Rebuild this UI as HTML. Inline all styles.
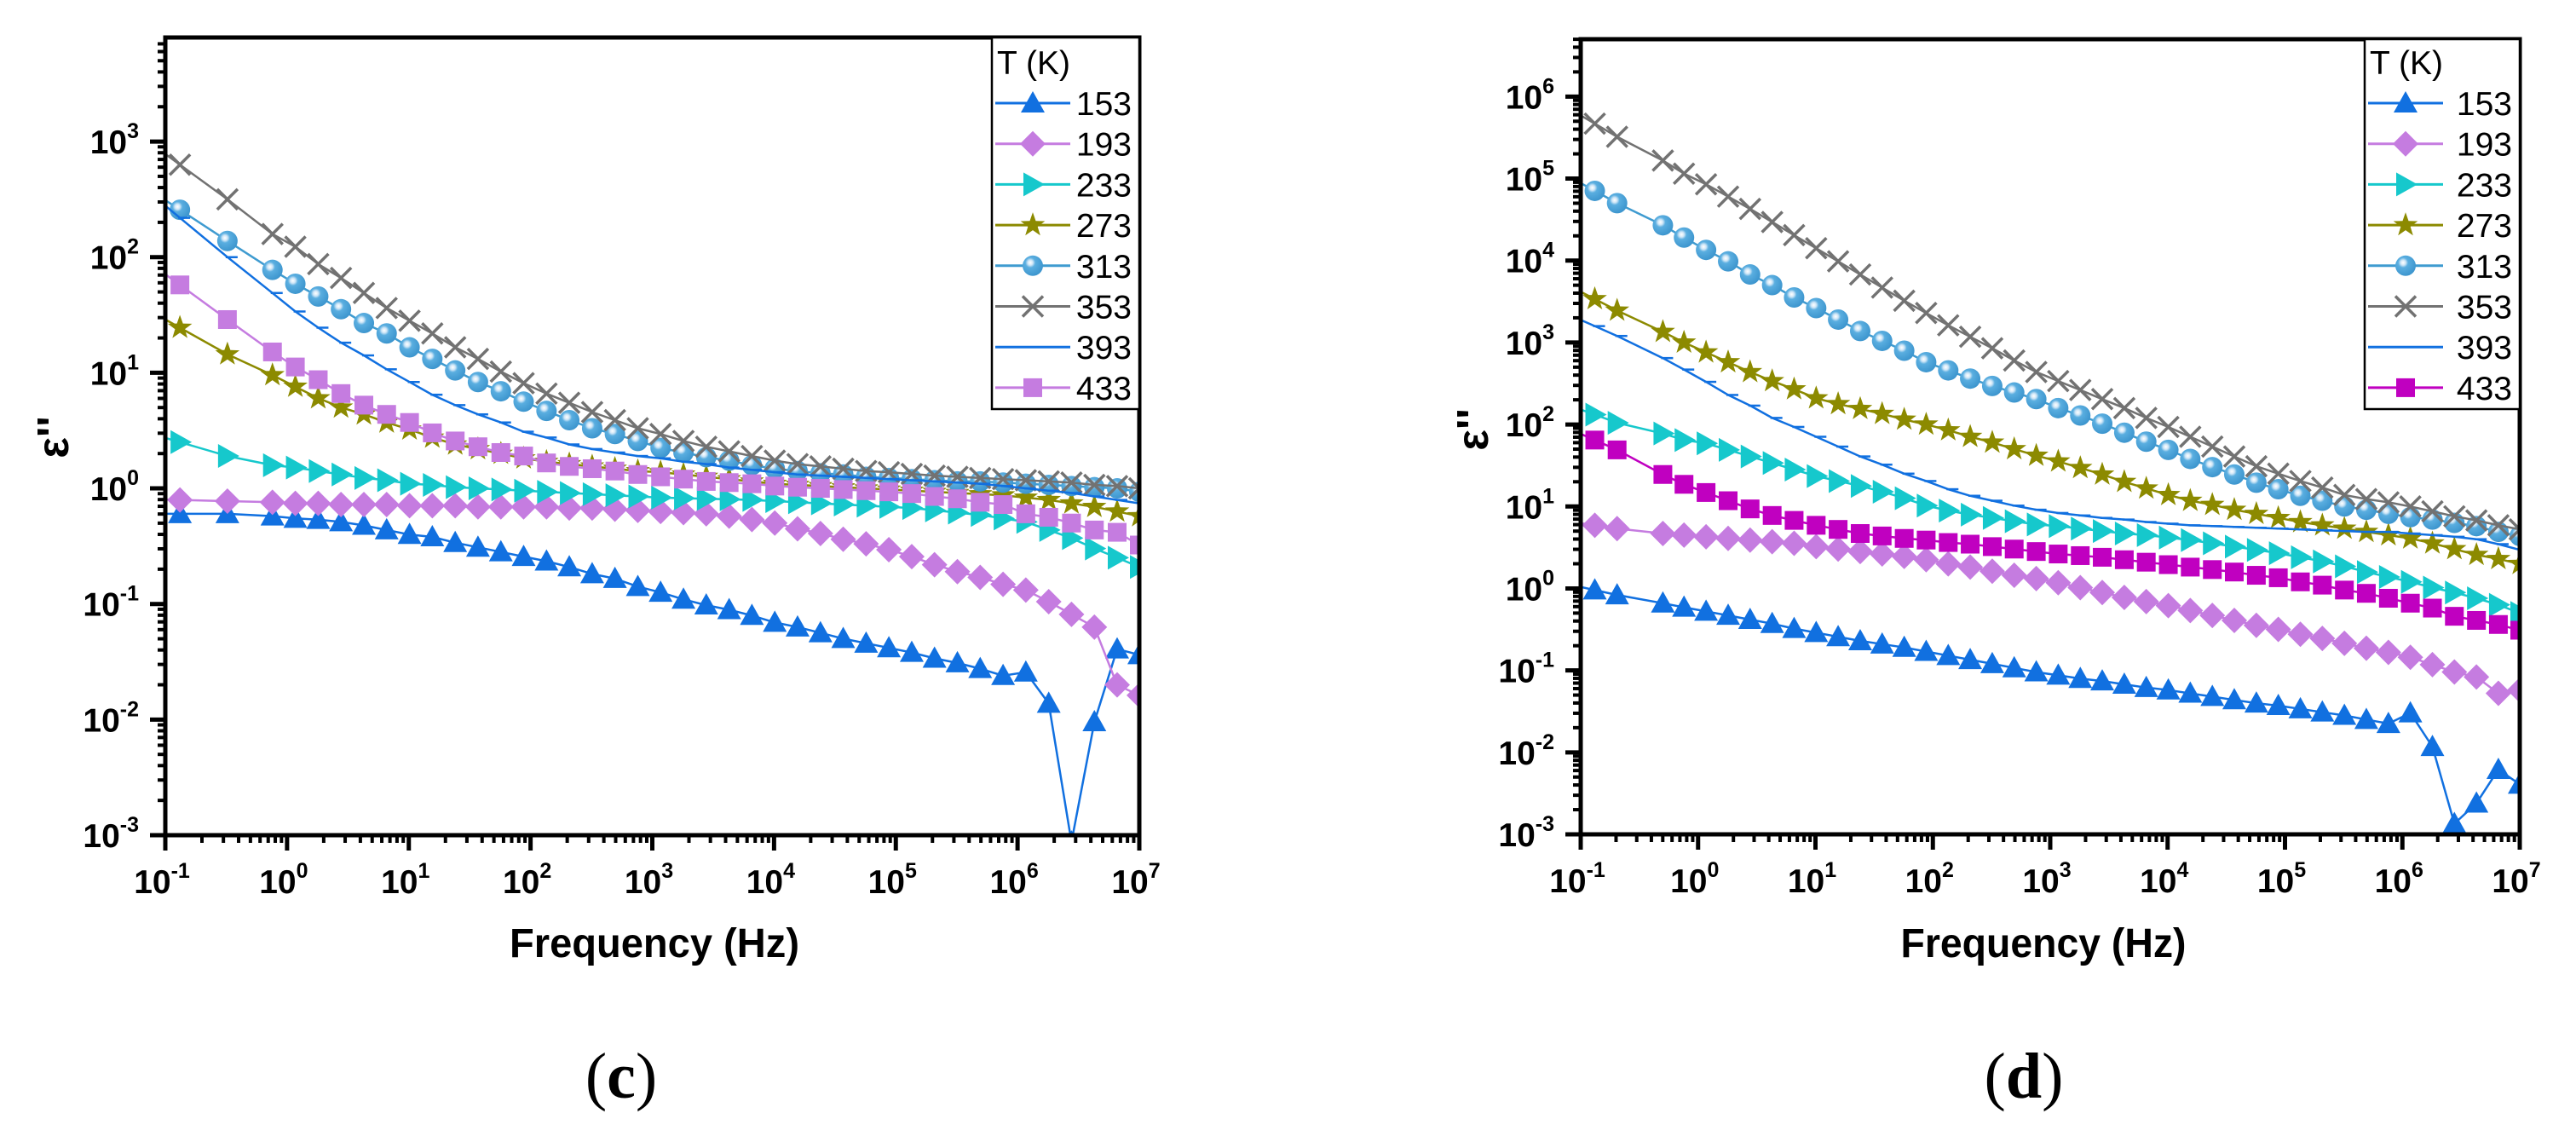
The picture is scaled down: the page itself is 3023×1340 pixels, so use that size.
<!DOCTYPE html>
<html><head><meta charset="utf-8"><style>
html,body{margin:0;padding:0;background:#fff;}
svg{display:block;font-family:"Liberation Sans",Arial,sans-serif;}
</style></head><body>
<svg id="fig" width="3023" height="1340" viewBox="0 0 3023 1340" xmlns="http://www.w3.org/2000/svg">
<defs>
<radialGradient id="ballg" cx="0.38" cy="0.35" r="0.7">
<stop offset="0" stop-color="#ffffff"/><stop offset="0.18" stop-color="#cfe6f7"/><stop offset="0.35" stop-color="#5aaee0"/><stop offset="1" stop-color="#3a93cc"/>
</radialGradient>
<clipPath id="clipC"><rect x="194" y="44" width="1143" height="936"/></clipPath>
<clipPath id="clipD"><rect x="1855" y="46" width="1102" height="933"/></clipPath>
</defs>
<rect x="0" y="0" width="3023" height="1340" fill="#fff"/>
</svg>
<script>
// ---------- data (log10 of frequency and of eps'') ----------
const freqLogC = [-0.88,-0.49,-0.12,0.068,0.256,0.443,0.631,0.818,1.006,1.193,1.381,1.568,1.756,1.943,2.131,2.318,2.506,2.693,2.881,3.068,3.256,3.443,3.631,3.818,4.006,4.193,4.381,4.568,4.756,4.943,5.131,5.318,5.506,5.693,5.881,6.068,6.256,6.443,6.631,6.818,7.0];
const freqLogD = [-0.88,-0.69,-0.30,-0.12,0.068,0.256,0.443,0.631,0.818,1.006,1.193,1.381,1.568,1.756,1.943,2.131,2.318,2.506,2.693,2.881,3.068,3.256,3.443,3.631,3.818,4.006,4.193,4.381,4.568,4.756,4.943,5.131,5.318,5.506,5.693,5.881,6.068,6.256,6.443,6.631,6.818,7.0];
const temps = ["153","193","233","273","313","353","393","433"];
const xTicks = [-1,0,1,2,3,4,5,6,7];
const yTicksC = [-3,-2,-1,0,1,2,3];
const yTicksD = [-3,-2,-1,0,1,2,3,4,5,6];

const c153 = [-0.22,-0.22,-0.24,-0.26,-0.27,-0.29,-0.32,-0.36,-0.40,-0.42,-0.47,-0.51,-0.55,-0.59,-0.63,-0.68,-0.74,-0.78,-0.85,-0.90,-0.96,-1.01,-1.05,-1.10,-1.16,-1.20,-1.25,-1.30,-1.34,-1.38,-1.42,-1.47,-1.51,-1.56,-1.62,-1.59,-1.86,-3.06,-2.02,-1.39,-1.44];
const c193 = [-0.10,-0.11,-0.12,-0.13,-0.13,-0.14,-0.14,-0.14,-0.15,-0.15,-0.15,-0.16,-0.16,-0.16,-0.16,-0.17,-0.17,-0.18,-0.19,-0.20,-0.21,-0.22,-0.24,-0.27,-0.30,-0.35,-0.39,-0.44,-0.48,-0.53,-0.59,-0.66,-0.72,-0.77,-0.83,-0.88,-0.98,-1.09,-1.20,-1.70,-1.79];
const c233 = [0.40,0.28,0.20,0.18,0.15,0.12,0.09,0.07,0.04,0.03,0.01,0.00,-0.01,-0.02,-0.03,-0.04,-0.05,-0.06,-0.07,-0.08,-0.085,-0.09,-0.095,-0.10,-0.11,-0.12,-0.13,-0.14,-0.15,-0.16,-0.17,-0.19,-0.21,-0.23,-0.26,-0.29,-0.36,-0.43,-0.52,-0.60,-0.68];
const c273 = [1.39,1.16,0.98,0.88,0.78,0.70,0.64,0.57,0.51,0.44,0.38,0.34,0.30,0.26,0.23,0.21,0.19,0.17,0.15,0.14,0.12,0.10,0.08,0.06,0.04,0.03,0.02,0.01,0.00,-0.01,-0.02,-0.03,-0.04,-0.05,-0.06,-0.08,-0.10,-0.13,-0.16,-0.20,-0.24];
const c313 = [2.41,2.14,1.89,1.77,1.66,1.55,1.43,1.34,1.22,1.12,1.02,0.92,0.84,0.75,0.67,0.59,0.52,0.47,0.41,0.35,0.31,0.27,0.24,0.20,0.17,0.15,0.13,0.12,0.10,0.09,0.08,0.07,0.06,0.06,0.05,0.04,0.03,0.02,0.01,0.00,-0.03];
const c353 = [2.80,2.50,2.20,2.09,1.94,1.82,1.69,1.56,1.45,1.34,1.22,1.12,1.01,0.91,0.82,0.74,0.66,0.59,0.52,0.47,0.41,0.36,0.32,0.28,0.24,0.21,0.19,0.17,0.15,0.14,0.125,0.11,0.10,0.09,0.08,0.07,0.06,0.05,0.03,0.02,0.00];
const c393 = [2.34,2.00,1.69,1.53,1.39,1.26,1.15,1.03,0.92,0.81,0.72,0.64,0.57,0.49,0.44,0.38,0.34,0.31,0.28,0.26,0.23,0.21,0.18,0.16,0.14,0.12,0.11,0.10,0.09,0.08,0.07,0.06,0.05,0.04,0.02,0.00,-0.02,-0.04,-0.07,-0.10,-0.13];
const c433 = [1.76,1.46,1.18,1.05,0.94,0.82,0.72,0.64,0.57,0.48,0.41,0.36,0.31,0.28,0.22,0.19,0.17,0.15,0.12,0.10,0.08,0.06,0.05,0.04,0.02,0.01,0.00,-0.01,-0.02,-0.03,-0.045,-0.07,-0.09,-0.12,-0.14,-0.22,-0.25,-0.30,-0.36,-0.38,-0.49];

const d153 = [-0.02,-0.08,-0.18,-0.23,-0.28,-0.33,-0.38,-0.43,-0.49,-0.54,-0.59,-0.64,-0.68,-0.72,-0.77,-0.82,-0.87,-0.92,-0.97,-1.02,-1.06,-1.10,-1.13,-1.17,-1.21,-1.24,-1.28,-1.32,-1.36,-1.40,-1.43,-1.47,-1.51,-1.55,-1.60,-1.65,-1.52,-1.93,-2.87,-2.62,-2.21,-2.39];
const d193 = [0.77,0.73,0.67,0.65,0.63,0.61,0.59,0.57,0.55,0.51,0.48,0.45,0.42,0.39,0.35,0.30,0.26,0.21,0.16,0.12,0.07,0.01,-0.05,-0.11,-0.16,-0.21,-0.27,-0.33,-0.39,-0.45,-0.50,-0.56,-0.61,-0.67,-0.73,-0.78,-0.84,-0.93,-1.02,-1.08,-1.28,-1.24];
const d233 = [2.12,2.02,1.89,1.81,1.77,1.69,1.61,1.53,1.45,1.37,1.31,1.25,1.18,1.10,1.01,0.95,0.90,0.86,0.82,0.78,0.76,0.73,0.70,0.67,0.65,0.62,0.59,0.55,0.51,0.47,0.43,0.38,0.33,0.27,0.20,0.14,0.08,0.01,-0.05,-0.12,-0.20,-0.30];
const d273 = [3.53,3.39,3.13,3.00,2.88,2.76,2.64,2.53,2.43,2.32,2.25,2.19,2.13,2.06,2.00,1.93,1.85,1.78,1.70,1.62,1.55,1.47,1.39,1.30,1.22,1.14,1.07,1.02,0.96,0.91,0.86,0.81,0.77,0.73,0.69,0.65,0.61,0.55,0.48,0.41,0.36,0.30];
const d313 = [4.85,4.70,4.43,4.28,4.13,3.99,3.83,3.70,3.55,3.42,3.28,3.14,3.02,2.90,2.76,2.66,2.56,2.47,2.39,2.31,2.20,2.11,2.01,1.90,1.79,1.69,1.58,1.48,1.39,1.29,1.21,1.13,1.07,1.00,0.96,0.91,0.87,0.84,0.80,0.76,0.69,0.64];
const d353 = [5.67,5.51,5.22,5.06,4.93,4.78,4.63,4.47,4.31,4.15,3.99,3.83,3.67,3.51,3.36,3.21,3.07,2.93,2.78,2.64,2.53,2.42,2.31,2.20,2.08,1.97,1.85,1.73,1.61,1.49,1.40,1.31,1.23,1.14,1.09,1.05,1.00,0.94,0.88,0.83,0.77,0.72];
const d393 = [3.20,3.08,2.81,2.67,2.52,2.36,2.23,2.08,1.97,1.85,1.73,1.61,1.51,1.40,1.31,1.21,1.13,1.07,1.01,0.96,0.92,0.89,0.86,0.84,0.81,0.79,0.77,0.76,0.75,0.74,0.73,0.72,0.71,0.70,0.69,0.69,0.67,0.65,0.63,0.60,0.54,0.47];
const d433 = [1.81,1.69,1.39,1.27,1.17,1.07,0.97,0.89,0.83,0.77,0.72,0.67,0.64,0.61,0.59,0.56,0.54,0.51,0.48,0.45,0.42,0.40,0.38,0.35,0.32,0.29,0.26,0.23,0.20,0.16,0.13,0.08,0.04,-0.02,-0.06,-0.12,-0.18,-0.24,-0.34,-0.39,-0.44,-0.51];

// ---------- styles ----------
const NS="http://www.w3.org/2000/svg";
const svg=document.getElementById('fig');
function mk(tag,attrs,parent){const e=document.createElementNS(NS,tag);for(const k in attrs)e.setAttribute(k,attrs[k]);(parent||svg).appendChild(e);return e;}

const styleC = {"153":["#1170e0","tri"],"193":["#c57ce0","dia"],"233":["#16c8cc","rtri"],"273":["#8c8a00","star"],"313":["#3f9bd0","ball"],"353":["#727272","x"],"393":["#1170e0","dash"],"433":["#c57ce0","sq"]};
const styleD = {"153":["#1170e0","tri"],"193":["#c57ce0","dia"],"233":["#16c8cc","rtri"],"273":["#8c8a00","star"],"313":["#3f9bd0","ball"],"353":["#727272","x"],"393":["#1170e0","dash"],"433":["#c000c0","sq"]};

function marker(g,type,color,x,y){
  let e;
  if(type==="tri"){e=mk('polygon',{points:`${x},${y-14} ${x+14},${y+11} ${x-14},${y+11}`,fill:color},g);}
  else if(type==="dia"){e=mk('polygon',{points:`${x},${y-15} ${x+15},${y} ${x},${y+15} ${x-15},${y}`,fill:color},g);}
  else if(type==="rtri"){e=mk('polygon',{points:`${x-11},${y-14} ${x+14},${y} ${x-11},${y+14}`,fill:color},g);}
  else if(type==="star"){let p=[];for(let i=0;i<10;i++){const r=i%2?6:15;const a=-Math.PI/2+i*Math.PI/5;p.push((x+r*Math.cos(a)).toFixed(1)+','+(y+r*Math.sin(a)).toFixed(1));}e=mk('polygon',{points:p.join(' '),fill:color},g);}
  else if(type==="ball"){e=mk('circle',{cx:x,cy:y,r:12,fill:'url(#ballg)'},g);}
  else if(type==="x"){e=mk('path',{d:`M${x-12},${y-12}L${x+12},${y+12}M${x-12},${y+12}L${x+12},${y-12}`,stroke:color,'stroke-width':3.5,fill:'none'},g);}
  else if(type==="sq"){e=mk('rect',{x:x-11,y:y-11,width:22,height:22,fill:color},g);}
  else if(type==="dash"){e=mk('line',{x1:x-2,y1:y,x2:x+12,y2:y,stroke:color,'stroke-width':2.5},g);}
  
  
}

function drawChart(cfg){
  const {L,T,R,B,yMin,yMax,xs,series,styles,yTicks,clip,name}=cfg;
  const g=mk('g',{});
  
  
  const X=v=>L+(v-(-1))/(7-(-1))*(R-L);
  const Y=v=>B-(v-yMin)/(yMax-yMin)*(B-T);
  const sg=mk('g',{'clip-path':`url(#${clip})`},g);
  
  
  temps.forEach(t=>{
    const ys=series[t],[col,type]=styles[t];
    const sgr=mk('g',{},sg);
    
    
    const pts=ys.map((v,i)=>X(xs[i]).toFixed(1)+','+Y(v).toFixed(1));
    const first=X(-1).toFixed(1)+','+Y(ys[0]+(ys[0]-ys[1])*((xs[0]+1)/(xs[1]-xs[0]))).toFixed(1);
    const pl=mk('polyline',{points:first+' '+pts.join(' '),fill:'none',stroke:col,'stroke-width':2.5},sgr);
    
    
    ys.forEach((v,i)=>marker(sgr,type,col,X(xs[i]),Y(v)));
  });
  const fr=mk('rect',{x:L,y:T,width:R-L,height:B-T,fill:'none',stroke:'#000','stroke-width':5},g);
  
  
  xTicks.forEach(d=>{
    const x=X(d);
    mk('line',{x1:x,y1:B,x2:x,y2:B+18,stroke:'#000','stroke-width':5},g);
    if(d<7){for(let m=2;m<=9;m++){const xm=X(d+Math.log10(m));mk('line',{x1:xm,y1:B,x2:xm,y2:B+9,stroke:'#000','stroke-width':4},g);}}
    const tx=mk('text',{x:x-4,y:B+68,'font-size':39,'font-weight':'bold','text-anchor':'middle'},g);
    
    
    tx.innerHTML=`10<tspan dy="-18" font-size="25">${d}</tspan>`;
  });
  for(let d=Math.floor(yMin);d<=Math.floor(yMax);d++){
    const y=Y(d);
    if(yTicks.includes(d)){
      mk('line',{x1:L-18,y1:y,x2:L,y2:y,stroke:'#000','stroke-width':5},g);
      const ty=mk('text',{x:L-31,y:y+14,'font-size':39,'font-weight':'bold','text-anchor':'end'},g);
      
      
      ty.innerHTML=`10<tspan dy="-18" font-size="25">${d}</tspan>`;
    }
    for(let m=2;m<=9;m++){const v=d+Math.log10(m);if(v>yMax)break;const ym=Y(v);mk('line',{x1:L-9,y1:ym,x2:L,y2:ym,stroke:'#000','stroke-width':4},g);}
  }
  const xt=mk('text',{x:cfg.xTitleX,y:1123,'font-size':48,'font-weight':'bold','text-anchor':'middle',textLength:cfg.xTitleW,lengthAdjust:'spacingAndGlyphs'},g);
  
  
  xt.textContent='Frequency (Hz)';
  const yt=mk('text',{x:0,y:0,'font-size':52,'font-weight':'bold','text-anchor':'middle',transform:`translate(${cfg.yTitleX},${cfg.yTitleY}) rotate(-90)`},g);
  
  
  yt.textContent='ε\'\'';
  const lg=mk('g',{},g);
  
  
  const lx=cfg.legX, lw=R-lx;
  mk('rect',{x:lx,y:T,width:lw,height:480-T,fill:'#fff',stroke:'#000','stroke-width':2.5},lg);
  const lt=mk('text',{x:lx+6,y:87,'font-size':39},lg);
  
  
  lt.textContent='T (K)';
  temps.forEach((t,i)=>{
    const y=121+47.7*i,[col,type]=styles[t];
    const eg=mk('g',{},lg);
    
    
    mk('line',{x1:lx+4,y1:y,x2:lx+92,y2:y,stroke:col,'stroke-width':3},eg);
    if(type!=='dash')marker(eg,type,col,lx+48,y);
    const tt=mk('text',{x:R-9,y:y+14,'font-size':39,'text-anchor':'end'},eg);
    tt.textContent=t;
  });
  const pl=mk('text',{x:cfg.panelX,y:1288,'font-size':76,'font-family':'"Liberation Serif",serif','text-anchor':'middle'},g);
  
  
  pl.innerHTML=`(<tspan font-weight="bold">${cfg.panel}</tspan>)`;
}

drawChart({name:'chart-c',L:194,T:44,R:1337,B:980,yMin:-3,yMax:3.9,xs:freqLogC,
  series:{"153":c153,"193":c193,"233":c233,"273":c273,"313":c313,"353":c353,"393":c393,"433":c433},
  styles:styleC,yTicks:yTicksC,clip:'clipC',xTitleX:768,xTitleW:340,yTitleX:80,yTitleY:513,legX:1164,panelX:729,panel:'c'});
drawChart({name:'chart-d',L:1855,T:46,R:2957,B:979,yMin:-3,yMax:6.7,xs:freqLogD,
  series:{"153":d153,"193":d193,"233":d233,"273":d273,"313":d313,"353":d353,"393":d393,"433":d433},
  styles:styleD,yTicks:yTicksD,clip:'clipD',xTitleX:2398,xTitleW:335,yTitleX:1746,yTitleY:504,legX:2775,panelX:2375,panel:'d'});
</script>
</body></html>
